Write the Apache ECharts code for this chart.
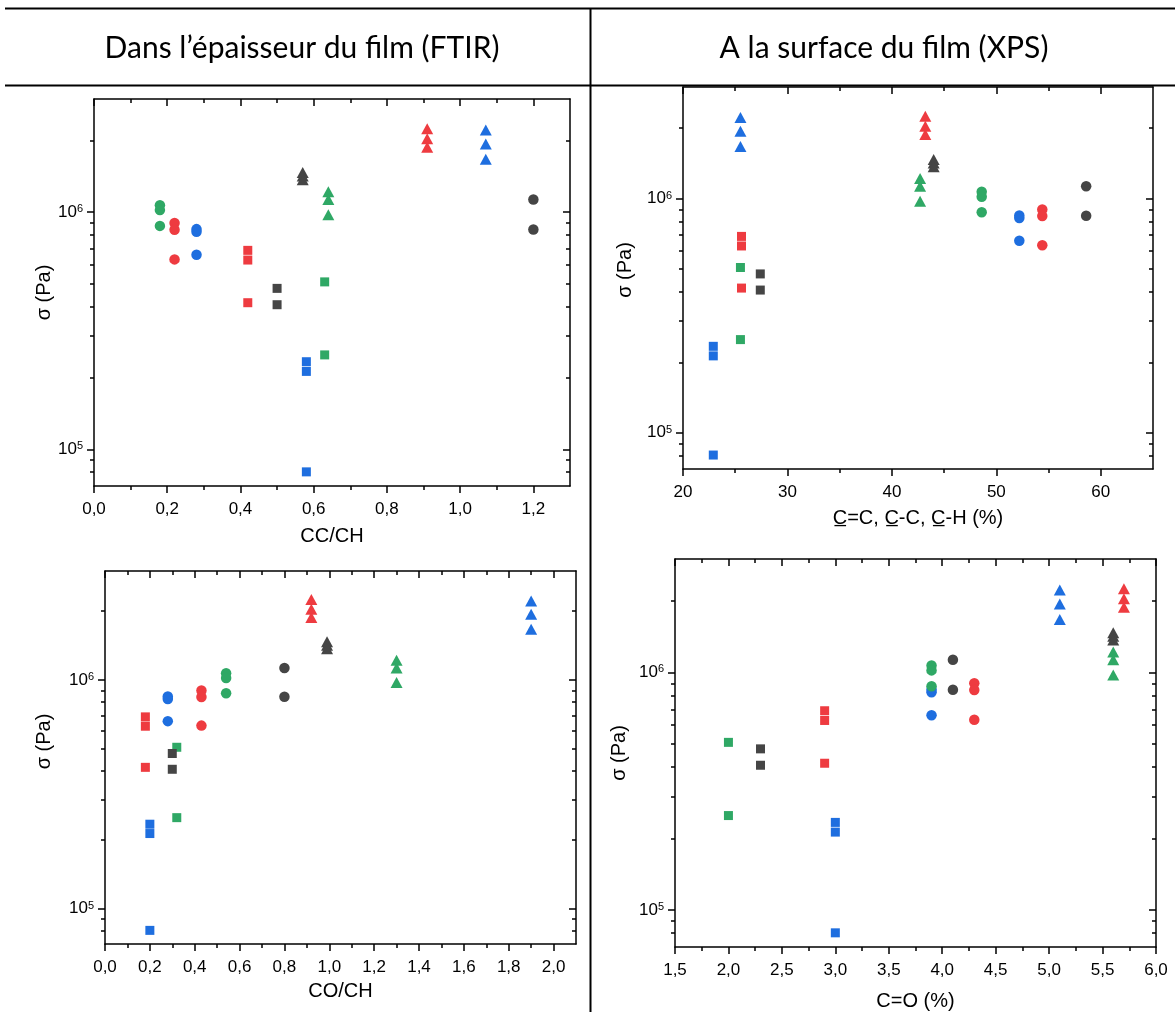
<!DOCTYPE html>
<html>
<head>
<meta charset="utf-8">
<script src="https://cdn.jsdelivr.net/npm/echarts@6/dist/echarts.min.js"></script>
<style>
html, body { margin: 0; padding: 0; background: #ffffff; }
#chart { width: 1175px; height: 1012px; }
</style>
</head>
<body>
<div id="chart"></div>
<script>
// ---------------- DATA ----------------
// Sample order used by every x array below
const sampleIds = ['redCircle', 'redSquare', 'redTriangle',
                   'blueCircle', 'blueSquare', 'blueTriangle',
                   'greenCircle', 'greenSquare', 'greenTriangle',
                   'grayCircle', 'graySquare', 'grayTriangle'];

// Measured stress σ (Pa) for each sample (replicates)
const sigmaRedCircle     = [0.90e6, 0.843e6, 0.632e6];
const sigmaRedSquare     = [0.69e6, 0.628e6, 0.415e6];
const sigmaRedTriangle   = [2.25e6, 2.04e6, 1.88e6];
const sigmaBlueCircle    = [0.848e6, 0.826e6, 0.661e6];
const sigmaBlueSquare    = [0.234e6, 0.213e6, 0.0803e6];
const sigmaBlueTriangle  = [2.22e6, 1.94e6, 1.67e6];
const sigmaGreenCircle   = [1.07e6, 1.02e6, 0.875e6];
const sigmaGreenSquare   = [0.508e6, 0.25e6];
const sigmaGreenTriangle = [1.22e6, 1.13e6, 0.975e6];
const sigmaGrayCircle    = [1.13e6, 0.845e6];
const sigmaGraySquare    = [0.477e6, 0.407e6];
const sigmaGrayTriangle  = [1.47e6, 1.42e6, 1.37e6];

// x value of each sample in each panel (same order as sampleIds)
const xCCCH  = [0.22, 0.42, 0.91, 0.28, 0.58, 1.07, 0.18, 0.63, 0.64, 1.20, 0.50, 0.57];
const xCOCH  = [0.43, 0.18, 0.92, 0.28, 0.20, 1.90, 0.54, 0.32, 1.30, 0.80, 0.30, 0.99];
const xXpsC  = [54.4, 25.6, 43.2, 52.2, 22.9, 25.5, 48.6, 25.5, 42.7, 58.6, 27.4, 44.0];
const xXpsCO = [4.3, 2.9, 5.7, 3.9, 3.0, 5.1, 3.9, 2.0, 5.6, 4.1, 2.3, 5.6];

// tick values
const ticksCCCH      = [0, 0.2, 0.4, 0.6, 0.8, 1.0, 1.2];
const minorTicksCCCH = [0.1, 0.3, 0.5, 0.7, 0.9, 1.1];
const ticksCOCH      = [0, 0.2, 0.4, 0.6, 0.8, 1.0, 1.2, 1.4, 1.6, 1.8, 2.0];
const minorTicksCOCH = [0.1, 0.3, 0.5, 0.7, 0.9, 1.1, 1.3, 1.5, 1.7, 1.9];
const ticksXpsC      = [20, 30, 40, 50, 60];
const minorTicksXpsC = [25, 35, 45, 55];
const ticksXpsCO     = [1.5, 2.0, 2.5, 3.0, 3.5, 4.0, 4.5, 5.0, 5.5, 6.0];
const minorTicksXpsCO= [1.75, 2.25, 2.75, 3.25, 3.75, 4.25, 4.75, 5.25, 5.75];
const ticksSigma      = [1e5, 1e6];
const minorTicksSigma = [8e4, 9e4, 2e5, 3e5, 4e5, 5e5, 6e5, 7e5, 8e5, 9e5, 2e6];

const headerLeft  = 'Dans l\u2019épaisseur du film (FTIR)';
const headerRight = 'A la surface du film (XPS)';
const yTitle = 'σ (Pa)';

// ---------------- STYLE ----------------
const sigmaBySample = [sigmaRedCircle, sigmaRedSquare, sigmaRedTriangle,
                       sigmaBlueCircle, sigmaBlueSquare, sigmaBlueTriangle,
                       sigmaGreenCircle, sigmaGreenSquare, sigmaGreenTriangle,
                       sigmaGrayCircle, sigmaGraySquare, sigmaGrayTriangle];
const COLORS = { red: '#EE3B40', blue: '#1E6EDF', green: '#2FA865', gray: '#454545' };
function styleOf(id) {
  const color = id.startsWith('red') ? COLORS.red : id.startsWith('blue') ? COLORS.blue
              : id.startsWith('green') ? COLORS.green : COLORS.gray;
  if (id.endsWith('Circle')) return { color, symbol: 'circle', size: 10.5 };
  if (id.endsWith('Square')) return { color, symbol: 'rect', size: 9 };
  return { color, symbol: 'triangle', size: [12, 11] };
}

const FONT = 'Liberation Sans, Arial, sans-serif';
const panels = [
  { x: xCCCH, min: 0, max: 1.3, majors: ticksCCCH, minors: minorTicksCCCH, dec: 1, name: 'CC/CH',
    grid: { left: 94, top: 99, width: 476, height: 387 }, xGap: 40, yGap: 39, yShift: 0 },
  { x: xXpsC, min: 20, max: 65, majors: ticksXpsC, minors: minorTicksXpsC, dec: 0,
    name: 'C\u0332=C, C\u0332-C, C\u0332-H (%)',
    grid: { left: 683, top: 87, width: 470, height: 382 }, xGap: 39, yGap: 48, yShift: 8 },
  { x: xCOCH, min: 0, max: 2.1, majors: ticksCOCH, minors: minorTicksCOCH, dec: 1, name: 'CO/CH',
    grid: { left: 105, top: 571, width: 471, height: 373 }, xGap: 37, yGap: 51, yShift: 16 },
  { x: xXpsCO, min: 1.5, max: 6.0, majors: ticksXpsCO, minors: minorTicksXpsCO, dec: 1, name: 'C=O (%)',
    grid: { left: 675, top: 559, width: 481, height: 389 }, xGap: 44, yGap: 46, yShift: 0 }
];

const AX = { color: '#000', width: 1.5 };
const MAJOR = 7, MINOR = 4;

const grids = [], xAxes = [], yAxes = [], series = [];

function fmtX(dec) {
  return v => Number(v).toFixed(dec).replace('.', ',');
}
function fmtY(v) {
  const e = Math.log10(v);
  const r = Math.round(e);
  if (Math.abs(e - r) > 1e-6) return '';
  return '10{sup|' + r + '}';
}

panels.forEach((p, gi) => {
  grids.push(Object.assign({ containLabel: false }, p.grid));
  const xBase = { type: 'value', gridIndex: gi, min: p.min, max: p.max, splitLine: { show: false } };
  // bottom major
  xAxes.push(Object.assign({}, xBase, {
    position: 'bottom',
    name: p.name, nameLocation: 'middle', nameGap: p.xGap,
    nameTextStyle: { fontFamily: FONT, fontSize: 20, color: '#000' },
    axisLine: { show: true, onZero: false, lineStyle: AX },
    axisTick: { show: true, inside: false, length: MAJOR, customValues: p.majors, lineStyle: AX },
    axisLabel: { show: true, customValues: p.majors, margin: 15, formatter: fmtX(p.dec),
                 fontFamily: FONT, fontSize: 17, color: '#000' }
  }));
  // bottom minor
  xAxes.push(Object.assign({}, xBase, {
    position: 'bottom',
    axisLine: { show: false, onZero: false },
    axisTick: { show: true, inside: false, length: MINOR, customValues: p.minors, lineStyle: AX },
    axisLabel: { show: false }
  }));
  // top major
  xAxes.push(Object.assign({}, xBase, {
    position: 'top',
    axisLine: { show: true, onZero: false, lineStyle: AX },
    axisTick: { show: true, inside: true, length: MAJOR, customValues: p.majors, lineStyle: AX },
    axisLabel: { show: false }
  }));
  // top minor
  xAxes.push(Object.assign({}, xBase, {
    position: 'top',
    axisLine: { show: false, onZero: false },
    axisTick: { show: true, inside: true, length: MINOR, customValues: p.minors, lineStyle: AX },
    axisLabel: { show: false }
  }));

  const yBase = { type: 'log', logBase: 10, gridIndex: gi, min: 7e4, max: 3e6, splitLine: { show: false } };
  yAxes.push(Object.assign({}, yBase, {
    position: 'left',
    name: yTitle, nameLocation: 'middle', nameRotate: 90, nameGap: p.yGap,
    nameTextStyle: { fontFamily: FONT, fontSize: 20, color: '#000', padding: [0, 0, 0, p.yShift * 2] },
    axisLine: { show: true, onZero: false, lineStyle: AX },
    axisTick: { show: true, inside: false, length: MAJOR, customValues: ticksSigma, lineStyle: AX },
    axisLabel: { show: true, customValues: ticksSigma, margin: 11, formatter: fmtY,
                 fontFamily: FONT, fontSize: 17, color: '#000',
                 rich: { sup: { fontFamily: FONT, fontSize: 11, lineHeight: 10, verticalAlign: 'top', color: '#000' } } }
  }));
  yAxes.push(Object.assign({}, yBase, {
    position: 'left',
    axisLine: { show: false, onZero: false },
    axisTick: { show: true, inside: false, length: MINOR, customValues: minorTicksSigma, lineStyle: AX },
    axisLabel: { show: false }
  }));
  yAxes.push(Object.assign({}, yBase, {
    position: 'right',
    axisLine: { show: true, onZero: false, lineStyle: AX },
    axisTick: { show: true, inside: true, length: MAJOR, customValues: ticksSigma, lineStyle: AX },
    axisLabel: { show: false }
  }));
  yAxes.push(Object.assign({}, yBase, {
    position: 'right',
    axisLine: { show: false, onZero: false },
    axisTick: { show: true, inside: true, length: MINOR, customValues: minorTicksSigma, lineStyle: AX },
    axisLabel: { show: false }
  }));

  sampleIds.forEach((id, si) => {
    const st = styleOf(id);
    series.push({
      type: 'scatter',
      name: id,
      xAxisIndex: gi * 4,
      yAxisIndex: gi * 4,
      symbol: st.symbol,
      symbolSize: st.size,
      itemStyle: { color: st.color, opacity: 1 },
      emphasis: { disabled: true },
      data: sigmaBySample[si].map(v => [p.x[si], v])
    });
  });
});

const chart = echarts.init(document.getElementById('chart'), null, { renderer: 'canvas' });
chart.setOption({
  animation: false,
  backgroundColor: '#ffffff',
  grid: grids,
  xAxis: xAxes,
  yAxis: yAxes,
  series: series,
  graphic: [
    { type: 'line', shape: { x1: 5, y1: 8.5, x2: 1175, y2: 8.5 }, style: { stroke: '#000', lineWidth: 2 } },
    { type: 'line', shape: { x1: 5, y1: 85.5, x2: 1175, y2: 85.5 }, style: { stroke: '#000', lineWidth: 2 } },
    { type: 'line', shape: { x1: 590.5, y1: 8, x2: 590.5, y2: 1012 }, style: { stroke: '#000', lineWidth: 2 } },
    { type: 'text', x: 302, y: 48,
      style: { text: headerLeft, font: '30px Lato', fill: '#000', align: 'center', verticalAlign: 'middle',
               textAlign: 'center', textVerticalAlign: 'middle' } },
    { type: 'text', x: 884, y: 48,
      style: { text: headerRight, font: '30px Lato', fill: '#000', align: 'center', verticalAlign: 'middle',
               textAlign: 'center', textVerticalAlign: 'middle' } }
  ]
});
</script>
</body>
</html>
